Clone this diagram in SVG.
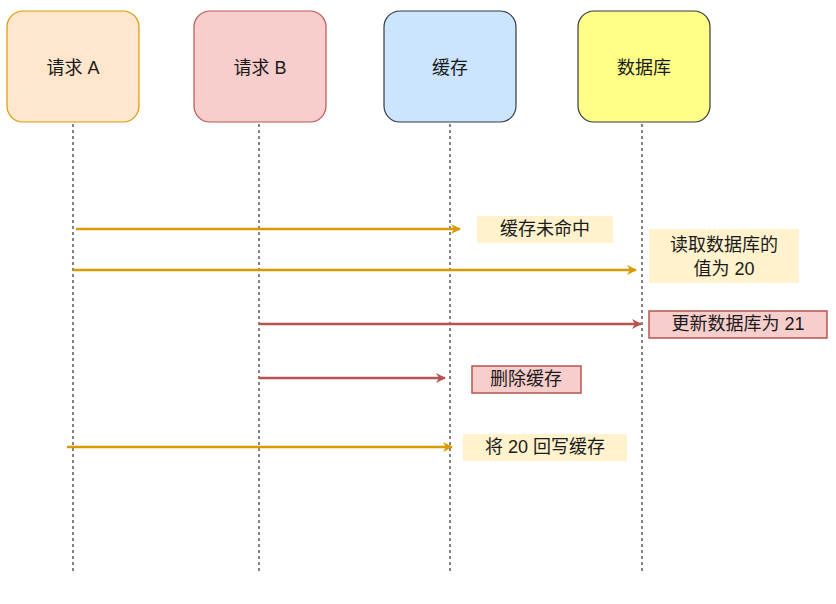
<svg xmlns="http://www.w3.org/2000/svg" width="836" height="604" viewBox="0 0 836 604">
<style>
text{font-family:"Liberation Sans","Noto Sans CJK SC",sans-serif;font-size:18px;fill:#1a1a1a;text-anchor:middle;dominant-baseline:central}
.life{stroke:#333;stroke-width:1.2;stroke-dasharray:3 3;fill:none}
.o{stroke:#d79b00;stroke-width:2.5;fill:none}
.r{stroke:#b85450;stroke-width:2.5;fill:none}
.lo{fill:#fff2cc}
.lr{fill:#f8cecc;stroke:#b85450;stroke-width:1.5}
</style>
<defs>
<marker id="ao" markerWidth="10" markerHeight="10" refX="9" refY="5" orient="auto" markerUnits="userSpaceOnUse" viewBox="0 0 10 10"><path d="M0,0 L10,5 L0,10 L3,5 Z" fill="#d79b00"/></marker>
<marker id="ar" markerWidth="10" markerHeight="10" refX="9" refY="5" orient="auto" markerUnits="userSpaceOnUse" viewBox="0 0 10 10"><path d="M0,0 L10,5 L0,10 L3,5 Z" fill="#b85450"/></marker>
</defs>
<rect width="836" height="604" fill="#fff"/>
<g id="lifelines">
<path class="life" d="M73,124V572M259,124V572M450,124V572M642,124V572"/>
</g>
<g id="nodeA"><rect x="7" y="11" width="132" height="111" rx="16" fill="#ffe6cc" stroke="#d79b00" stroke-width="1.2"/><text x="73" y="68">请求 A</text></g>
<g id="nodeB"><rect x="194" y="11" width="132" height="111" rx="16" fill="#f8cecc" stroke="#b85450" stroke-width="1.2"/><text x="260" y="68">请求 B</text></g>
<g id="cache"><rect x="384" y="11" width="132" height="111" rx="16" fill="#cce5ff" stroke="#36393d" stroke-width="1.2"/><text x="450" y="68">缓存</text></g>
<g id="db"><rect x="578" y="11" width="132" height="111" rx="16" fill="#ffff88" stroke="#36393d" stroke-width="1.2"/><text x="644" y="68">数据库</text></g>
<g id="connectors">
<line class="o" x1="76" y1="229" x2="460" y2="229" marker-end="url(#ao)"/>
<line class="o" x1="73" y1="270" x2="636" y2="270" marker-end="url(#ao)"/>
<line class="r" x1="259" y1="324" x2="641" y2="324" marker-end="url(#ar)"/>
<line class="r" x1="259" y1="378" x2="445" y2="378" marker-end="url(#ar)"/>
<line class="o" x1="67" y1="447" x2="452" y2="447" marker-end="url(#ao)"/>
</g>
<g id="label1"><rect class="lo" x="477" y="216" width="136" height="27"/><text x="545" y="229">缓存未命中</text></g>
<g id="label2"><rect class="lo" x="649" y="229" width="150" height="54"/><text x="724" y="245">读取数据库的</text><text x="724" y="269">值为 20</text></g>
<g id="label3"><rect class="lr" x="649" y="311" width="178" height="27"/><text x="738" y="324">更新数据库为 21</text></g>
<g id="label4"><rect class="lr" x="472" y="366" width="109" height="27"/><text x="526" y="379">删除缓存</text></g>
<g id="label5"><rect class="lo" x="463" y="434" width="164" height="27"/><text x="545" y="447">将 20 回写缓存</text></g>
</svg>
